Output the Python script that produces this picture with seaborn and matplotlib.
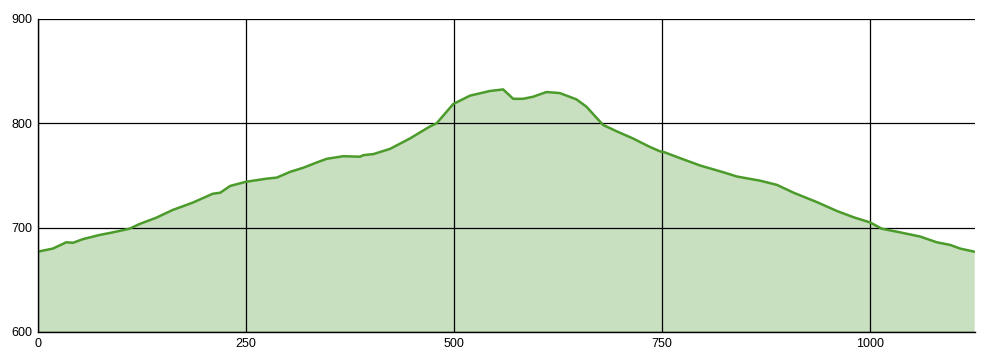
import matplotlib
matplotlib.use("Agg")
import matplotlib.pyplot as plt
import seaborn as sns
import pandas as pd

distance = [0, 18, 34, 42, 54, 74, 90, 110, 122, 142, 162, 186, 210, 219, 231, 250,
            275, 287, 303, 319, 335, 347, 351, 367, 387, 391, 403, 423, 447, 471, 479,
            499, 519, 543, 559, 571, 583, 595, 611, 627, 647, 659, 679, 695, 715, 735,
            748, 752, 772, 796, 824, 840, 868, 888, 908, 936, 960, 980, 1000, 1014,
            1036, 1060, 1080, 1096, 1108, 1125]
elevation = [677, 680, 686, 685.5, 689, 693, 695.5, 699, 703.5, 709.5, 717, 724, 732.5,
             733.5, 740, 744, 747, 748, 753.5, 757.5, 762.5, 766, 766.5, 768.5, 768,
             769.5, 770.5, 775.5, 785.5, 797, 800, 818.5, 826.5, 831, 832.5, 823.5, 823.5,
             825.5, 830, 829, 823, 816, 798.5, 792.5, 785.5, 777.5, 773, 772.5, 766.5,
             759.5, 753, 749, 745, 741, 733.5, 724.5, 716, 710, 705, 699, 695.5, 691.5,
             686, 683.5, 680, 677]
x_ticks = [0, 250, 500, 750, 1000]
y_ticks = [600, 700, 800, 900]

df = pd.DataFrame({"distance": distance, "elevation": elevation})

sns.set_style("white")
plt.rcParams["font.family"] = ["Liberation Sans", "DejaVu Sans"]

fig = plt.figure(figsize=(9.9, 3.6), dpi=100)
ax = fig.add_axes([38 / 990, 28 / 360, 937 / 990, 313 / 360])

ax.fill_between(df["distance"], df["elevation"], 600, color="#c8dfc0", lw=0, zorder=1)
sns.lineplot(data=df, x="distance", y="elevation", ax=ax, color="#4b9b2b", lw=1.8, zorder=3)

ax.set_xlim(0, 1126)
ax.set_ylim(600, 900)
ax.set_xticks(x_ticks)
ax.set_yticks(y_ticks)
ax.set_xlabel("")
ax.set_ylabel("")
ax.grid(True, color="#000000", lw=0.9, zorder=2)
ax.set_axisbelow(False)
for line in ax.get_xgridlines() + ax.get_ygridlines():
    line.set_zorder(2)

for s in ["top", "right"]:
    ax.spines[s].set_visible(False)
for s in ["left", "bottom"]:
    ax.spines[s].set_color("#000000")
    ax.spines[s].set_linewidth(1.0)
    ax.spines[s].set_zorder(4)

ax.tick_params(axis="both", length=0, labelsize=9, colors="#000000", pad=4)

fig.savefig("out.png", dpi=100)
